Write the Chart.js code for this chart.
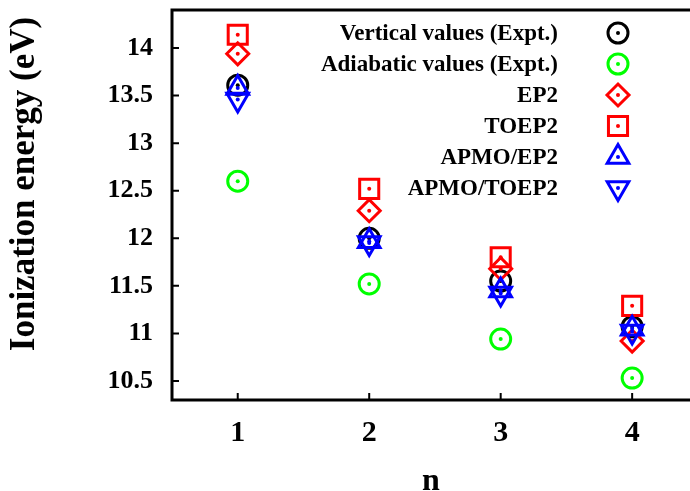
<!DOCTYPE html>
<html>
<head>
<meta charset="utf-8">
<script src="https://cdn.jsdelivr.net/npm/chart.js@4.4.0/dist/chart.umd.min.js"></script>
<style>
    html, body { margin: 0; padding: 0; background: #fff; }
    #wrap { width: 690px; height: 491px; }
</style>
</head>
<body>
<div id="wrap"><canvas id="chart"></canvas></div>
<script>
"use strict";

// data
const nValues = [1, 2, 3, 4];
const verticalExpt = [13.61, 12.00, 11.55, 11.07];
const adiabaticExpt = [12.60, 11.52, 10.94, 10.53];
const ep2 = [13.94, 12.29, 11.68, 10.92];
const toep2 = [14.14, 12.52, 11.80, 11.29];
const apmoEp2 = [13.58, 11.97, 11.45, 11.05];
const apmoToep2 = [13.46, 11.95, 11.42, 11.02];

const xTicks = [1, 2, 3, 4];
const yTicks = [10.5, 11, 11.5, 12, 12.5, 13, 13.5, 14];

const seriesLabels = ['Vertical values (Expt.)', 'Adiabatic values (Expt.)', 'EP2', 'TOEP2', 'APMO/EP2', 'APMO/TOEP2'];
const seriesValues = [verticalExpt, adiabaticExpt, ep2, toep2, apmoEp2, apmoToep2];
const seriesColors = ['#000000', '#00ff00', '#ff0000', '#ff0000', '#0000ff', '#0000ff'];
const seriesStyles = ['circle', 'circle', 'rectRot', 'rect', 'triangle', 'triangle'];
const seriesRadius = [10, 10, 11, 13.5, 12.5, 12.5];
const seriesRotation = [0, 0, 0, 0, 0, 180];

const FONT = '"Liberation Serif", "Times New Roman", serif';

function buildDatasets() {
    let sets = [];
    for (let i = 0; i < seriesLabels.length; i++) {
        sets.push({
            label: seriesLabels[i],
            data: nValues.map(function (n, j) { return { x: n, y: seriesValues[i][j] }; }),
            pointStyle: seriesStyles[i],
            pointRadius: seriesRadius[i],
            pointHoverRadius: seriesRadius[i],
            pointRotation: seriesRotation[i],
            pointBorderWidth: 3,
            pointHoverBorderWidth: 3,
            pointBorderColor: seriesColors[i],
            pointBackgroundColor: 'rgba(0,0,0,0)',
            showLine: false,
            order: seriesLabels.length - i
        });
    }
    return sets;
}

// small dot in the middle of each marker (gnuplot style)
const centerDots = {
    id: 'centerDots',
    afterDatasetDraw(chart, args) {
        let ctx = chart.ctx;
        let i = args.index;
        ctx.save();
        ctx.fillStyle = seriesColors[i];
        args.meta.data.forEach(function (pt) {
            ctx.beginPath();
            ctx.arc(pt.x, pt.y, 2, 0, Math.PI * 2);
            ctx.fill();
        });
        ctx.restore();
    }
};

// frame, inward ticks, y title and the legend
const frame = {
    id: 'frame',
    afterDraw(chart) {
        let ctx = chart.ctx;
        let a = chart.chartArea;
        let xs = chart.scales.x;
        let ys = chart.scales.y;
        ctx.save();
        ctx.strokeStyle = '#000';
        ctx.lineWidth = 3;
        ctx.beginPath();
        ctx.moveTo(chart.width, a.top);
        ctx.lineTo(a.left, a.top);
        ctx.lineTo(a.left, a.bottom);
        ctx.lineTo(chart.width, a.bottom);
        ctx.stroke();

        ctx.lineWidth = 2;
        ctx.beginPath();
        yTicks.forEach(function (v) {
            let y = ys.getPixelForValue(v);
            ctx.moveTo(a.left, y);
            ctx.lineTo(a.left + 7, y);
        });
        xTicks.forEach(function (v) {
            let x = xs.getPixelForValue(v);
            ctx.moveTo(x, a.bottom);
            ctx.lineTo(x, a.bottom - 7);
        });
        ctx.stroke();

        // y axis title
        ctx.fillStyle = '#000';
        ctx.font = 'bold 35px ' + FONT;
        ctx.textAlign = 'center';
        ctx.textBaseline = 'middle';
        ctx.translate(25, 184);
        ctx.rotate(-Math.PI / 2);
        ctx.fillText('Ionization energy (eV)', 0, 0);
        ctx.restore();

        // legend
        let rows = [33, 64, 95, 126, 157, 188];
        ctx.save();
        ctx.font = 'bold 23px ' + FONT;
        ctx.textAlign = 'right';
        ctx.textBaseline = 'middle';
        for (let i = 0; i < seriesLabels.length; i++) {
            ctx.fillStyle = '#000';
            ctx.fillText(seriesLabels[i], 558, rows[i] + 1);
            ctx.strokeStyle = seriesColors[i];
            ctx.fillStyle = 'rgba(0,0,0,0)';
            ctx.lineWidth = 3;
            Chart.helpers.drawPoint(ctx, {
                pointStyle: seriesStyles[i],
                radius: seriesRadius[i],
                rotation: seriesRotation[i],
                borderWidth: 3
            }, 618, rows[i]);
            ctx.fillStyle = seriesColors[i];
            ctx.beginPath();
            ctx.arc(618, rows[i], 2, 0, Math.PI * 2);
            ctx.fill();
        }
        ctx.restore();
    }
};

function plainLabel(value) {
    return String(value);
}

function main() {
    new Chart(document.getElementById('chart'), {
        type: 'scatter',
        data: { datasets: buildDatasets() },
        options: {
            responsive: true,
            maintainAspectRatio: false,
            animation: false,
            layout: { padding: { top: 10, right: 0, left: 0, bottom: 0 }, autoPadding: false },
            plugins: { legend: { display: false }, tooltip: { enabled: false } },
            scales: {
                x: {
                    type: 'linear',
                    min: 0.5,
                    max: 4.44,
                    afterBuildTicks: function (scale) {
                        scale.ticks = xTicks.map(function (v) { return { value: v }; });
                    },
                    afterFit: function (scale) {
                        scale.height = 91;
                        scale.paddingLeft = 0;
                        scale.paddingRight = 0;
                    },
                    grid: { display: false, drawTicks: false },
                    border: { display: false },
                    ticks: { color: '#000', padding: 15, callback: plainLabel, font: { family: FONT, size: 30, weight: 'bold' } },
                    title: {
                        display: true,
                        text: 'n',
                        color: '#000',
                        padding: { top: 0, bottom: 0 },
                        font: { family: FONT, size: 32, weight: 'bold', lineHeight: 0.6 }
                    }
                },
                y: {
                    type: 'linear',
                    min: 10.3,
                    max: 14.4,
                    afterBuildTicks: function (scale) {
                        scale.ticks = yTicks.map(function (v) { return { value: v }; });
                    },
                    afterFit: function (scale) {
                        scale.width = 172;
                        scale.paddingTop = 0;
                        scale.paddingBottom = 0;
                    },
                    grid: { display: false, drawTicks: false },
                    border: { display: false },
                    ticks: { color: '#000', padding: 19, callback: plainLabel, font: { family: FONT, size: 26, weight: 'bold' } }
                }
            }
        },
        plugins: [centerDots, frame]
    });
}

document.addEventListener('DOMContentLoaded', main);
</script>
</body>
</html>
